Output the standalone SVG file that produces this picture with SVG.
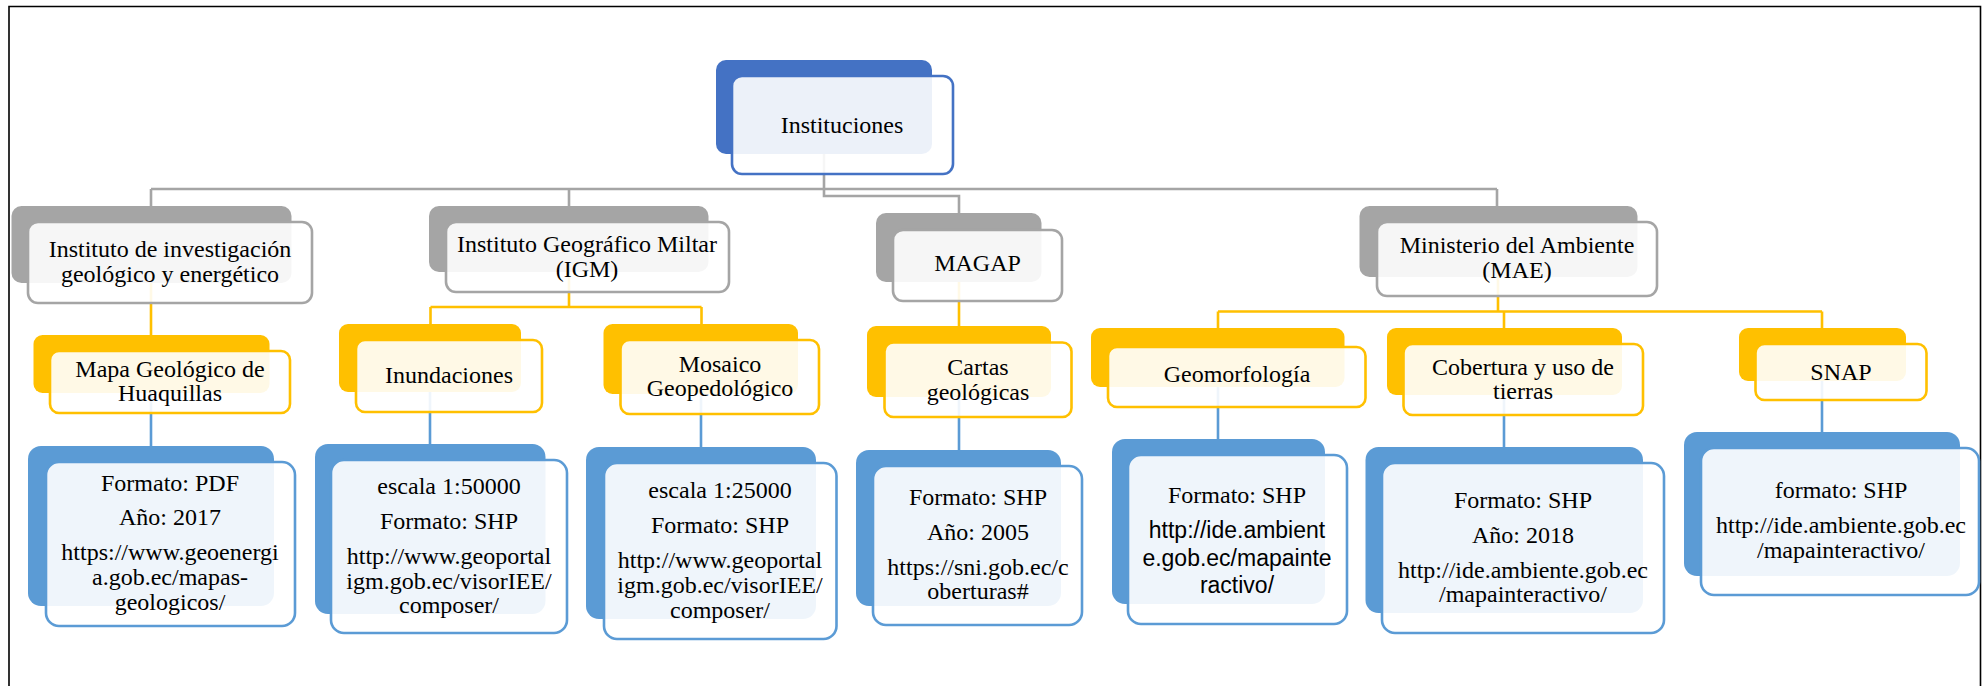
<svg xmlns="http://www.w3.org/2000/svg" width="1982" height="686" viewBox="0 0 1982 686">
<style>
.bg{fill:#ffffff}
.frame{fill:none;stroke:#000;stroke-width:1.6}
.b0{fill:#4472C4}
.f0{fill:#ffffff;fill-opacity:0.9;stroke:#4472C4;stroke-width:2.6}
.b1{fill:#A5A5A5}
.f1{fill:#ffffff;fill-opacity:0.9;stroke:#A5A5A5;stroke-width:2.6}
.b2{fill:#FFC000}
.f2{fill:#ffffff;fill-opacity:0.9;stroke:#FFC000;stroke-width:2.6}
.b3{fill:#5B9BD5}
.f3{fill:#ffffff;fill-opacity:0.9;stroke:#5B9BD5;stroke-width:2.6}
.cg{fill:none;stroke:#A5A5A5;stroke-width:2.6}
.cy{fill:none;stroke:#FFC000;stroke-width:2.6}
.cb{fill:none;stroke:#5B9BD5;stroke-width:2.6}
text{font-family:"Liberation Serif","Times New Roman",serif;font-size:24px;fill:#000;text-anchor:middle}
text.sans{font-family:"Liberation Sans",Arial,sans-serif;font-size:23px}
</style>
<rect class="bg" x="0" y="0" width="1982" height="686"/>
<path class="frame" d="M9,690 V6.5 H1980.5 V690"/>
<g id="connectors">
<path class="cg" d="M824,154 V189 M151,189 H1497 M151,189 V206 M569,189 V206 M1497,189 V206 M824,189 V196 H959 V213"/>
<path class="cy" d="M151,283 V335 M569,272 V307 M430.5,307 H701.5 M430.5,307 V324 M701.5,307 V324 M959,282 V326 M1498,277 V311.5 M1218,311.5 H1822 M1218,311.5 V328 M1504,311.5 V328 M1822,311.5 V328"/>
<path class="cb" d="M151,393 V446 M430,392 V444 M701,394 V447 M959,397 V450 M1218,387 V439 M1504,395 V447 M1822,381 V432"/>
</g>
<g id="n-instituciones">
<rect class="b0" x="716" y="60" width="216" height="94" rx="10"/>
<rect class="f0" x="732" y="76" width="221" height="98" rx="10"/>
<text x="842" y="133">Instituciones</text>
</g>
<g id="n-inigemm">
<rect class="b1" x="11.5" y="206" width="280" height="77" rx="10"/>
<rect class="f1" x="28" y="222" width="284" height="81" rx="10"/>
<text x="170" y="257">Instituto de investigación</text>
<text x="170" y="282">geológico y energético</text>
</g>
<g id="n-igm">
<rect class="b1" x="429" y="206" width="279.5" height="66" rx="10"/>
<rect class="f1" x="446" y="222" width="283" height="70" rx="10"/>
<text x="587" y="252">Instituto Geográfico Miltar</text>
<text x="587" y="277">(IGM)</text>
</g>
<g id="n-magap">
<rect class="b1" x="876" y="213" width="165.5" height="69" rx="10"/>
<rect class="f1" x="893" y="230" width="169" height="71" rx="10"/>
<text x="977.5" y="271">MAGAP</text>
</g>
<g id="n-mae">
<rect class="b1" x="1359.5" y="206" width="278" height="71" rx="10"/>
<rect class="f1" x="1377" y="222" width="280" height="74" rx="10"/>
<text x="1517" y="253">Ministerio del Ambiente</text>
<text x="1517" y="278">(MAE)</text>
</g>
<g id="n-mapa">
<rect class="b2" x="33.5" y="335" width="236" height="58" rx="9"/>
<rect class="f2" x="50" y="351" width="240" height="62" rx="9"/>
<text x="170" y="377">Mapa Geológico de</text>
<text x="170" y="401">Huaquillas</text>
</g>
<g id="n-inundaciones">
<rect class="b2" x="339" y="324" width="182" height="68" rx="9"/>
<rect class="f2" x="356" y="340" width="186" height="72" rx="9"/>
<text x="449" y="383">Inundaciones</text>
</g>
<g id="n-mosaico">
<rect class="b2" x="603.5" y="324" width="194.5" height="70" rx="9"/>
<rect class="f2" x="620.5" y="340" width="198.5" height="74" rx="9"/>
<text x="720" y="372">Mosaico</text>
<text x="720" y="396">Geopedológico</text>
</g>
<g id="n-cartas">
<rect class="b2" x="867" y="326" width="184" height="71" rx="9"/>
<rect class="f2" x="884.5" y="342.5" width="187" height="74.5" rx="9"/>
<text x="978" y="375">Cartas</text>
<text x="978" y="400">geológicas</text>
</g>
<g id="n-geomorfologia">
<rect class="b2" x="1091" y="328" width="253.5" height="59" rx="9"/>
<rect class="f2" x="1108" y="347" width="257.5" height="60" rx="9"/>
<text x="1237" y="382">Geomorfología</text>
</g>
<g id="n-cobertura">
<rect class="b2" x="1387" y="328" width="235" height="67" rx="9"/>
<rect class="f2" x="1403.5" y="344" width="239.5" height="71" rx="9"/>
<text x="1523" y="375">Cobertura y uso de</text>
<text x="1523" y="399">tierras</text>
</g>
<g id="n-snap">
<rect class="b2" x="1739" y="328" width="167" height="53" rx="9"/>
<rect class="f2" x="1755.5" y="344" width="171" height="56" rx="9"/>
<text x="1841" y="380">SNAP</text>
</g>
<g id="n-mapa-info">
<rect class="b3" x="28" y="446" width="246" height="160" rx="13"/>
<rect class="f3" x="46" y="462" width="249" height="164" rx="13"/>
<text x="170" y="491">Formato: PDF</text>
<text x="170" y="525">Año: 2017</text>
<text x="170" y="560">https://www.geoenergi</text>
<text x="170" y="585">a.gob.ec/mapas-</text>
<text x="170" y="610">geologicos/</text>
</g>
<g id="n-inundaciones-info">
<rect class="b3" x="315" y="444" width="230.5" height="170" rx="13"/>
<rect class="f3" x="331" y="460" width="236" height="173" rx="13"/>
<text x="449" y="494">escala 1:50000</text>
<text x="449" y="529">Formato: SHP</text>
<text x="449" y="564">http://www.geoportal</text>
<text x="449" y="589">igm.gob.ec/visorIEE/</text>
<text x="449" y="613">composer/</text>
</g>
<g id="n-mosaico-info">
<rect class="b3" x="586" y="447" width="230" height="172" rx="13"/>
<rect class="f3" x="604" y="463" width="232.5" height="176" rx="13"/>
<text x="720" y="498">escala 1:25000</text>
<text x="720" y="533">Formato: SHP</text>
<text x="720" y="568">http://www.geoportal</text>
<text x="720" y="593">igm.gob.ec/visorIEE/</text>
<text x="720" y="618">composer/</text>
</g>
<g id="n-cartas-info">
<rect class="b3" x="856" y="450" width="205" height="156" rx="13"/>
<rect class="f3" x="873" y="466" width="209" height="159" rx="13"/>
<text x="978" y="505">Formato: SHP</text>
<text x="978" y="540">Año: 2005</text>
<text x="978" y="575">https://sni.gob.ec/c</text>
<text x="978" y="599">oberturas#</text>
</g>
<g id="n-geomorfologia-info">
<rect class="b3" x="1112" y="439" width="213" height="165" rx="13"/>
<rect class="f3" x="1128" y="455" width="219" height="169" rx="13"/>
<text x="1237" y="503">Formato: SHP</text>
<text class="sans" x="1237" y="538">http://ide.ambient</text>
<text class="sans" x="1237" y="566">e.gob.ec/mapainte</text>
<text class="sans" x="1237" y="593">ractivo/</text>
</g>
<g id="n-cobertura-info">
<rect class="b3" x="1365.5" y="447" width="277.5" height="166" rx="13"/>
<rect class="f3" x="1382" y="463" width="282" height="170" rx="13"/>
<text x="1523" y="508">Formato: SHP</text>
<text x="1523" y="543">Año: 2018</text>
<text x="1523" y="578">http://ide.ambiente.gob.ec</text>
<text x="1523" y="602">/mapainteractivo/</text>
</g>
<g id="n-snap-info">
<rect class="b3" x="1684" y="432" width="276" height="144" rx="13"/>
<rect class="f3" x="1701" y="448" width="278" height="147" rx="13"/>
<text x="1841" y="498">formato: SHP</text>
<text x="1841" y="533">http://ide.ambiente.gob.ec</text>
<text x="1841" y="558">/mapainteractivo/</text>
</g>
</svg>
